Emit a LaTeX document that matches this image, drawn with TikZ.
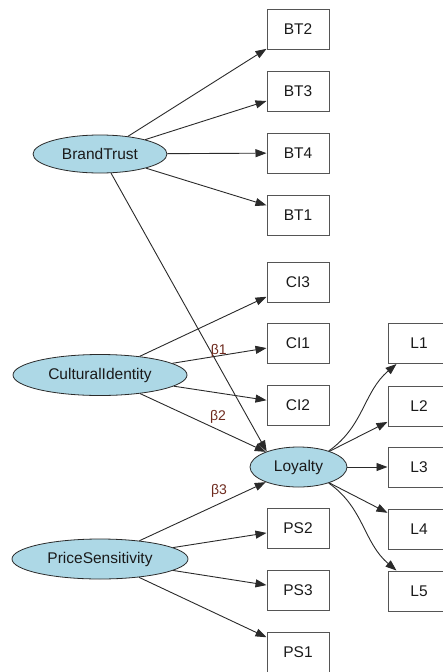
\documentclass[tikz,border=0pt]{standalone}
\usepackage{fontspec}
\setmainfont{Liberation Sans}
\usetikzlibrary{shapes.geometric,arrows.meta}
\definecolor{ellfill}{HTML}{ADD8E6}
\definecolor{edgecol}{HTML}{2A2A2A}
\definecolor{boxcol}{HTML}{555555}
\definecolor{txtcol}{HTML}{1A1A1A}
\definecolor{betacol}{HTML}{6E2A1E}
\tikzset{
  latent/.style={ellipse, draw=edgecol, fill=ellfill, line width=0.8pt, inner sep=0pt, text=txtcol, font=\fontsize{15.5}{18}\selectfont},
  indic/.style={rectangle, draw=boxcol, line width=1pt, minimum width=62pt, minimum height=40pt, inner sep=0pt, text=txtcol, font=\fontsize{15.5}{18}\selectfont},
  conn/.style={draw=edgecol, line width=0.9pt, -{Triangle[length=11pt,width=8pt]}},
  beta/.style={text=betacol, inner sep=0pt, font=\fontsize{14}{16}\selectfont}
}
\begin{document}
\begin{tikzpicture}[x=1pt,y=1pt]
\useasboundingbox (0,0) rectangle (443,-672);
\clip (0,0) rectangle (443,-672);
% latent variables
\node[latent, minimum width=134pt, minimum height=38pt] (BT) at (100,-154) {BrandTrust};
\node[latent, minimum width=174pt, minimum height=41pt] (CI) at (100,-375) {CulturalIdentity};
\node[latent, minimum width=176pt, minimum height=40pt] (PS) at (100,-559) {PriceSensitivity};
\node[latent, minimum width=97pt, minimum height=40pt] (LO) at (298.5,-467) {Loyalty};
% indicators
\node[indic] (BT2) at (298,-29) {BT2};
\node[indic] (BT3) at (298,-91) {BT3};
\node[indic] (BT4) at (298,-153) {BT4};
\node[indic] (BT1) at (298,-215) {BT1};
\node[indic] (CI3) at (298,-282) {CI3};
\node[indic] (CI1) at (298,-343) {CI1};
\node[indic] (CI2) at (298,-405) {CI2};
\node[indic] (PS2) at (298,-528) {PS2};
\node[indic] (PS3) at (298,-590) {PS3};
\node[indic] (PS1) at (298,-652) {PS1};
\node[indic] (L1) at (419,-343.5) {L1};
\node[indic] (L2) at (419,-406) {L2};
\node[indic] (L3) at (419,-467) {L3};
\node[indic] (L4) at (419,-529) {L4};
\node[indic] (L5) at (419,-591) {L5};
% measurement edges
\foreach \t in {BT2,BT3,BT4,BT1} \draw[conn] (BT) -- (\t);
\foreach \t in {CI3,CI1,CI2} \draw[conn] (CI) -- (\t);
\foreach \t in {PS2,PS3,PS1} \draw[conn] (PS) -- (\t);
% structural edges
\draw[conn] (BT.-60) -- node[beta, pos=0.64, xshift=8pt] {β1} (LO.154);
\draw[conn] (CI) -- node[beta, pos=0.62, yshift=13pt] {β2} (LO);
\draw[conn] (PS) -- node[beta, pos=0.63, yshift=13pt] {β3} (LO);
% loyalty indicators
\draw[conn] (LO.28) to[out=35, in=220] ([xshift=9pt]L1.south west);
\draw[conn] (LO) -- (L2);
\draw[conn] (LO) -- (L3);
\draw[conn] (LO) -- (L4);
\draw[conn] (LO.-28) to[out=-35, in=140] ([xshift=9pt]L5.north west);
\end{tikzpicture}
\end{document}
